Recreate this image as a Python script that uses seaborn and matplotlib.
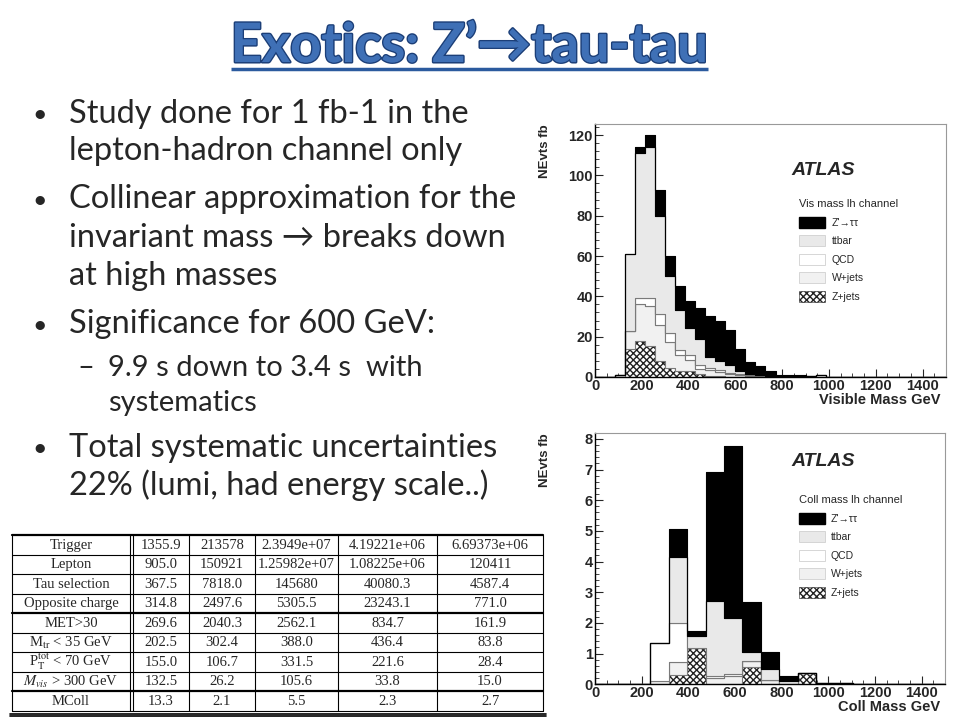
import numpy as np
import pandas as pd
import matplotlib
matplotlib.use("Agg")
import matplotlib.pyplot as plt
import matplotlib.patheffects as pe
from matplotlib.colors import to_hex
from matplotlib.patches import Patch
from matplotlib.ticker import MultipleLocator
import seaborn as sns

# processes, top of the stack first
processes = ["Z'", "ttbar", "QCD", "W+jets", "Z+jets"]
legend_labels = ["Z'\u2192\u03c4\u03c4", "ttbar", "QCD", "W+jets", "Z+jets"]

# visible mass: 35 bins over 0-1500 GeV, values start at bin 2
vis_edges = np.linspace(0, 1500, 36)
vis_first_bin = 2
vis_zprime = [0, 0, 3, 6, 13, 10, 12, 13, 15, 20.5, 20, 17.5, 11, 5.8, 4.3, 2.5, 0.7, 0.7, 0.5, 0, 0]
vis_ttbar = [0, 38, 72, 75, 49, 28, 19.5, 13.7, 13, 5.5, 4.7, 3.8, 1.5, 0.7, 0.6, 0.2, 0.1, 0.1, 0.1, 0, 0]
vis_qcd = [0, 0, 3, 4, 5, 4.5, 2.5, 2.2, 1.8, 1.2, 1.0, 0.7, 0.5, 0.4, 0.2, 0.1, 0.1, 0.1, 0.1, 0.6, 1.0]
vis_wjets = [1.0, 9, 18, 19.5, 18.2, 13, 8, 5.8, 2.7, 2.8, 2.0, 1.5, 1.0, 0.6, 0.4, 0.2, 0.1, 0.1, 0.1, 0, 0]
vis_zjets = [0, 14, 18, 15.5, 7.8, 4.5, 3, 2.8, 1.5, 0.5, 0.3, 0, 0, 0, 0, 0, 0, 0, 0, 0, 0]

# collinear mass: 19 bins over 0-1500 GeV, values start at bin 3
coll_edges = np.linspace(0, 1500, 20)
coll_first_bin = 3
coll_zprime = [0, 0.91, 0.17, 4.20, 5.62, 1.63, 0.55, 0.15, 0, 0, 0]
coll_ttbar = [0, 2.15, 0.41, 2.46, 1.82, 0.30, 0.34, 0.12, 0, 0, 0]
coll_qcd = [1.24, 1.25, 0, 0.05, 0.05, 0, 0, 0, 0, 0, 0]
coll_wjets = [0.12, 0.44, 0, 0.22, 0.28, 0.19, 0.15, 0, 0.02, 0.05, 0.03]
coll_zjets = [0, 0.30, 1.17, 0, 0, 0.57, 0, 0, 0.36, 0, 0]

# cut flow table
cut_names = ["Trigger", "Lepton", "Tau selection", "Opposite charge", "MET>30",
             r"M$_{\rm tr}$ < 35 GeV", r"P$_{\rm T}^{\rm tot}$ < 70 GeV",
             r"$M_{vis}$ > 300 GeV", "MColl"]
cut_col1 = ["1355.9", "905.0", "367.5", "314.8", "269.6", "202.5", "155.0", "132.5", "13.3"]
cut_col2 = ["213578", "150921", "7818.0", "2497.6", "2040.3", "302.4", "106.7", "26.2", "2.1"]
cut_col3 = ["2.3949e+07", "1.25982e+07", "145680", "5305.5", "2562.1", "388.0", "331.5", "105.6", "5.5"]
cut_col4 = ["4.19221e+06", "1.08225e+06", "40080.3", "23243.1", "834.7", "436.4", "221.6", "33.8", "2.3"]
cut_col5 = ["6.69373e+06", "120411", "4587.4", "771.0", "161.9", "83.8", "28.4", "15.0", "2.7"]

bullets = ["Study done for 1 fb-1 in the", "lepton-hadron channel only",
           "Collinear approximation for the", "invariant mass \u2192 breaks down",
           "at high masses", "Significance for 600 GeV:",
           "9.9 s down to 3.4 s  with", "systematics",
           "Total systematic uncertainties", "22% (lumi, had energy scale..)"]

palette = {"Z'": "#000000", "ttbar": "#e9e9e9", "QCD": "#ffffff",
           "W+jets": "#f1f1f1", "Z+jets": "#fefefe"}

sns.set_style("white")
plt.rcParams["font.family"] = ["Liberation Sans", "DejaVu Sans"]
plt.rcParams["mathtext.fontset"] = "stix"


def make_frame(edges, first, series):
    centers = (edges[:-1] + edges[1:]) / 2
    rows = []
    for name, vals in zip(processes, series):
        for i, v in enumerate(vals):
            rows.append((centers[first + i], v, name))
    return pd.DataFrame(rows, columns=["mass", "nevts", "process"])


def draw_hist(ax, df, edges, ymax, ymajor, yminor, xlabel, title, atlas_y, leg_y, xlab_y):
    sns.histplot(data=df, x="mass", weights="nevts", hue="process", hue_order=processes,
                 palette=palette, multiple="stack", bins=list(edges), element="step",
                 alpha=1, edgecolor="#7a7a7a", linewidth=0.8, legend=False, ax=ax)
    for c in ax.collections:
        fc = to_hex(c.get_facecolor()[0][:3])
        if fc == palette["Z+jets"]:
            c.set_hatch("xxxxx")
            c.set_edgecolor("#222222")
            c.set_linewidth(0.5)
        elif fc == palette["Z'"]:
            c.set_edgecolor("black")
    ax.set_xlim(0, 1500)
    ax.set_ylim(0, ymax)
    ax.xaxis.set_major_locator(MultipleLocator(200))
    ax.xaxis.set_minor_locator(MultipleLocator(50))
    ax.yaxis.set_major_locator(MultipleLocator(ymajor))
    ax.yaxis.set_minor_locator(MultipleLocator(yminor))
    ax.tick_params(which="both", direction="in", left=True, bottom=True, top=False, right=False)
    ax.tick_params(which="major", length=6, width=0.8, labelsize=10.5, pad=1.5)
    ax.tick_params(which="minor", length=3, width=0.6)
    for lbl in ax.get_xticklabels() + ax.get_yticklabels():
        lbl.set_fontweight("bold")
    for side in ["left", "bottom"]:
        ax.spines[side].set_color("black")
        ax.spines[side].set_linewidth(1.0)
    for side in ["top", "right"]:
        ax.spines[side].set_color("#999999")
        ax.spines[side].set_linewidth(0.8)
    ax.set_xlabel(xlabel, loc="right", fontsize=10.5, fontweight="bold")
    ax.xaxis.set_label_coords(0.985, xlab_y)
    ax.set_ylabel("NEvts fb", loc="top", fontsize=9.5, fontweight="bold")
    ax.yaxis.set_label_coords(-0.125, 1.0)
    ax.text(0.56, atlas_y, "ATLAS", transform=ax.transAxes, fontsize=14,
            fontweight="bold", fontstyle="italic", va="center")
    handles = []
    for name, lab in zip(processes, legend_labels):
        if name == "Z+jets":
            handles.append(Patch(facecolor="white", edgecolor="#222222", hatch="xxxxx", lw=0.4, label=lab))
        elif name == "Z'":
            handles.append(Patch(facecolor="black", edgecolor="black", label=lab))
        else:
            handles.append(Patch(facecolor=palette[name], edgecolor="#d0d0d0", lw=0.6, label=lab))
    ax.legend(handles=handles, title=title, loc="upper left", bbox_to_anchor=(0.555, leg_y),
              frameon=False, fontsize=7.5, title_fontsize=8, handlelength=2.5,
              handleheight=1.25, labelspacing=0.72, handletextpad=0.6, alignment="left")


fig = plt.figure(figsize=(9.6, 7.2), dpi=100)

# slide text layer in pixel coordinates
slide = fig.add_axes([0, 0, 1, 1])
slide.set_xlim(0, 960)
slide.set_ylim(720, 0)
slide.axis("off")

title = slide.text(469, 62, "Exotics: Z\u2019\u2192tau-tau", ha="center", va="baseline",
                   fontsize=39, fontweight="bold", color="#3f70b6",
                   family=["Lato", "DejaVu Sans"])
title.set_path_effects([pe.withStroke(linewidth=2.2, foreground="#1c3f78"), pe.Normal()])
slide.plot([231, 708], [69, 69], color="#2b5a9e", lw=2.5, solid_capstyle="butt")

base_y = [122.7, 160, 208.3, 246.7, 285, 333.3, 376, 411, 456.7, 495]
first_lines = [0, 2, 5, 8]
sub_lines = [6, 7]
for i, line in enumerate(bullets):
    if i in sub_lines:
        slide.text(108, base_y[i], line, fontsize=21, va="baseline", family=["Lato", "DejaVu Sans"])
        if i == 6:
            slide.text(86, base_y[i], "\u2013", fontsize=21, va="baseline", ha="center",
                       family=["Lato", "DejaVu Sans"])
    else:
        slide.text(69, base_y[i], line, fontsize=23.5, va="baseline", family=["Lato", "DejaVu Sans"])
        if i in first_lines:
            slide.text(40, base_y[i] - 8, "\u2022", fontsize=18, va="center", ha="center",
                       family=["Lato", "DejaVu Sans"])

# cut flow table
col_x = [12, 133, 189, 255, 338, 437, 543]
row_h = 19.5
top_y = 535
n_rows = len(cut_names)
bottom_y = top_y + n_rows * row_h
for i in range(n_rows + 1):
    y = top_y + i * row_h
    lw = 1.6 if i in (4, 8, 0) else 0.8
    slide.plot([col_x[0], col_x[-1]], [y, y], color="black", lw=lw)
slide.plot([10, 546], [bottom_y + 3, bottom_y + 3], color="black", lw=1.2)
slide.plot([10, 546], [bottom_y + 5.5, bottom_y + 5.5], color="black", lw=1.2)
for j, x in enumerate(col_x):
    slide.plot([x, x], [top_y, bottom_y], color="black", lw=0.8)
slide.plot([130, 130], [top_y, bottom_y], color="black", lw=0.8)
cols = [cut_names, cut_col1, cut_col2, cut_col3, cut_col4, cut_col5]
for j, col in enumerate(cols):
    xc = (col_x[j] + col_x[j + 1]) / 2
    if j == 0:
        xc = (col_x[0] + 130) / 2
    for i, val in enumerate(col):
        slide.text(xc, top_y + (i + 0.5) * row_h + 0.5, val, ha="center", va="center",
                   fontsize=10.5, family=["Liberation Serif", "DejaVu Serif"])

# histograms
ax1 = fig.add_axes([0.6198, 0.4764, 0.3656, 0.3514])
df_vis = make_frame(vis_edges, vis_first_bin,
                    [vis_zprime, vis_ttbar, vis_qcd, vis_wjets, vis_zjets])
draw_hist(ax1, df_vis, vis_edges, 125.5, 20, 4, "Visible Mass GeV",
          "Vis mass lh channel", 0.815, 0.74, -0.065)

ax2 = fig.add_axes([0.6198, 0.0496, 0.3646, 0.3486])
df_coll = make_frame(coll_edges, coll_first_bin,
                     [coll_zprime, coll_ttbar, coll_qcd, coll_wjets, coll_zjets])
draw_hist(ax2, df_coll, coll_edges, 8.18, 1, 0.2, "Coll Mass GeV",
          "Coll mass lh channel", 0.887, 0.79, -0.062)

fig.savefig("out.png", dpi=100)
